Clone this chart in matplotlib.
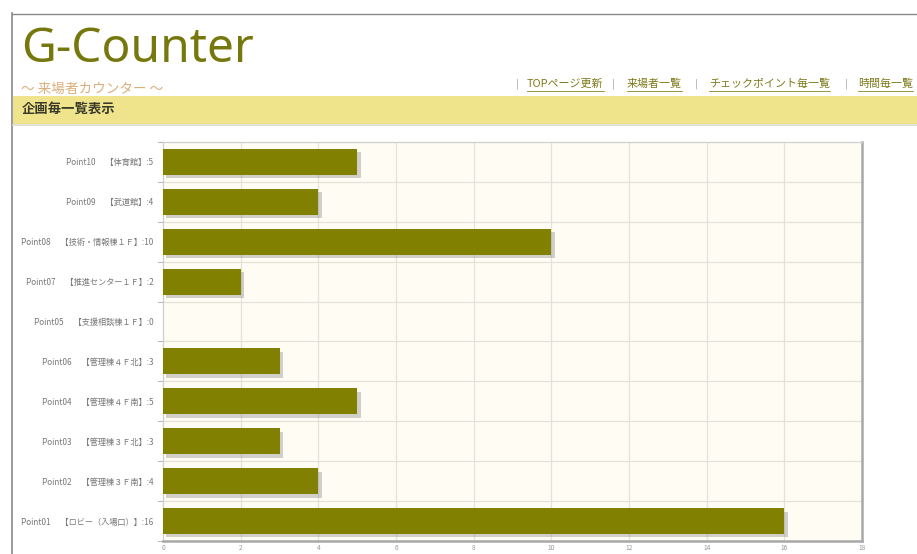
import matplotlib
matplotlib.use("Agg")
import matplotlib.pyplot as plt
import matplotlib.patheffects as pe
from matplotlib.lines import Line2D
from matplotlib.patches import Rectangle
import numpy as np

plt.rcParams['font.family'] = ['Noto Sans CJK JP', 'DejaVu Sans']

# ---- data (top row first) ----
point_ids = ["Point10", "Point09", "Point08", "Point07", "Point05",
             "Point06", "Point04", "Point03", "Point02", "Point01"]
places = ["【体育館】", "【武道館】", "【技術・情報棟１Ｆ】", "【推進センター１Ｆ】",
          "【支援相談棟１Ｆ】", "【管理棟４Ｆ北】", "【管理棟４Ｆ南】",
          "【管理棟３Ｆ北】", "【管理棟３Ｆ南】", "【ロビー（入場口）】"]
visitors = [5, 4, 10, 2, 0, 3, 5, 3, 4, 16]
x_ticks = [0, 2, 4, 6, 8, 10, 12, 14, 16, 18]

title = "G-Counter"
subtitle = "～ 来場者カウンター ～"
section = "企画毎一覧表示"
nav_items = ["TOPページ更新", "来場者一覧", "チェックポイント毎一覧", "時間毎一覧"]

W, H = 917, 554
fig = plt.figure(figsize=(W / 100, H / 100), dpi=100)
fig.patch.set_facecolor("white")


def fx(px):
    return px / W


def fy(py):
    return 1 - py / H


# page frame
fig.add_artist(Line2D([fx(12), fx(12)], [fy(13), 0], color="#8a8a8a", lw=1.2))
fig.add_artist(Line2D([fx(12), 1], [fy(13.5), fy(13.5)], color="#8a8a8a", lw=1.0))

# header
fig.text(fx(21), fy(62), title, fontsize=34.5, color="#76780e",
         family=["Noto Sans", "DejaVu Sans"], va="baseline", ha="left")
fig.text(fx(21), fy(89), subtitle, fontsize=9.8, color="#dcae7c",
         va="center", ha="left")

# navigation links
renderer = fig.canvas.get_renderer()
nav_left = [527, 627, 709, 858]
sep_x = [517, 613, 696, 846]
for item, lx, sx in zip(nav_items, nav_left, sep_x):
    t = fig.text(fx(lx), fy(84), item, fontsize=7.9, color="#7e7a1a",
                 va="center", ha="left")
    bb = t.get_window_extent(renderer)
    fig.add_artist(Line2D([bb.x0 / W, bb.x1 / W], [fy(90.5), fy(90.5)],
                          color="#8a8620", lw=0.6))
    fig.text(fx(sx), fy(84), "|", fontsize=7, color="#aaaaaa",
             va="center", ha="center", family=["DejaVu Sans"])

# section band
fig.add_artist(Rectangle((fx(13), fy(124)), 1 - fx(13), (124 - 96) / H,
                         transform=fig.transFigure, facecolor="#efe38b",
                         edgecolor="none"))
fig.add_artist(Line2D([fx(13), 1], [fy(125), fy(125)], color="#dcdcd0", lw=1.2))
fig.text(fx(22), fy(109), section, fontsize=9.6, color="#3a3a2a",
         fontweight="bold", va="center", ha="left")

# ---- chart ----
left_px, right_px, top_px, bottom_px = 163, 862, 142, 541
ax = fig.add_axes([fx(left_px), fy(bottom_px), (right_px - left_px) / W,
                   (bottom_px - top_px) / H])
ax.set_facecolor("#fffcf4")

n = len(visitors)
ypos = np.arange(n)[::-1]
labels = [f"{p}　 {pl}:{v}" for p, pl, v in zip(point_ids, places, visitors)]

bars = ax.barh(ypos, visitors, height=0.65, color="#818000", zorder=3)
for b in bars:
    b.set_path_effects([pe.SimplePatchShadow(offset=(2.5, -2.5),
                                             shadow_rgbFace="#8c8c8c", alpha=0.4),
                        pe.Normal()])

ax.set_xlim(x_ticks[0], x_ticks[-1])
ax.set_ylim(-0.5, n - 0.5)
ax.set_xticks(x_ticks)
ax.set_xticklabels([str(t) for t in x_ticks], fontsize=4.8, color="#999999")
ax.set_yticks(ypos)
ax.set_yticklabels(labels, fontsize=5.9, color="#777777")
ax.tick_params(axis="y", length=0, pad=7)
ax.tick_params(axis="x", length=0, pad=2)

# grid: vertical at ticks, horizontal at category boundaries
for t in x_ticks[1:-1]:
    ax.axvline(t, color="#e4e2da", lw=0.9, zorder=1)
for b in np.arange(0.5, n - 0.5, 1.0):
    ax.axhline(b, color="#e4e2da", lw=0.9, zorder=1)
# small marks left of the axis at category boundaries
for b in np.arange(-0.5, n, 1.0):
    ax.plot([-0.12, 0], [b, b], color="#b8b8b8", lw=0.8, clip_on=False, zorder=2)

for side in ["left", "top"]:
    ax.spines[side].set_color("#cfcfcf")
    ax.spines[side].set_linewidth(0.9)
for side in ["right", "bottom"]:
    ax.spines[side].set_color("#a8a8a8")
    ax.spines[side].set_linewidth(1.8)

fig.savefig("out.png", dpi=100, facecolor="white")
